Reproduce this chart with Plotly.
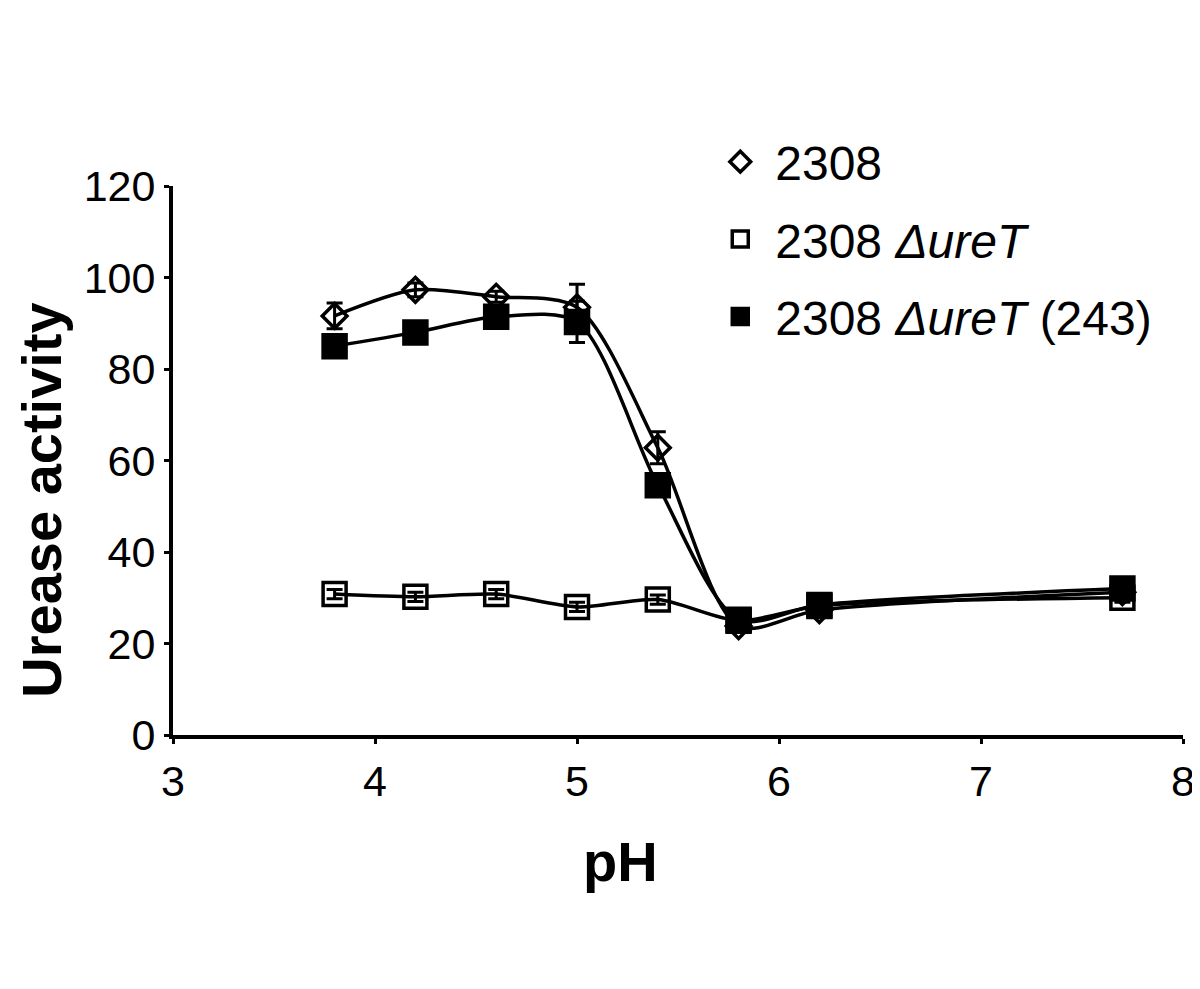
import plotly.graph_objects as go

ph = [3.8, 4.2, 4.6, 5.0, 5.4, 5.8, 6.2, 7.7]

wt = [91.6, 97.3, 95.8, 93.5, 62.8, 23.8, 27.3, 31.2]
wt_err = [2.8, 1.5, 1.2, 5.0, 3.5, 1.0, 1.0, 1.0]

ure = [30.8, 30.2, 30.8, 28.0, 29.6, 25.0, 28.2, 30.0]
ure_err = [1.0, 1.0, 1.0, 1.0, 1.0, 1.0, 1.0, 1.0]

comp = [85.0, 88.0, 91.4, 90.3, 54.6, 25.2, 28.4, 32.0]
comp_err = [1.5, 2.0, 1.5, 4.5, 2.0, 1.0, 1.0, 1.0]

names = ["2308", "2308 <i>ΔureT</i>", "2308 <i>ΔureT</i> (243)"]
FONT = "Arial, Liberation Sans, sans-serif"

fig = go.Figure()

# (values, errors, symbol, size, legend name, legend order)
series = [
    (ure, ure_err, "square-open", 23, names[1], 1),
    (wt, wt_err, "diamond-open", 19, names[0], 0),
    (comp, comp_err, "square", 23, names[2], 2),
]

for vals, err, sym, size, name, rank in series:
    fig.add_scatter(x=ph, y=vals, mode="lines", showlegend=False,
                    line=dict(color="black", width=3.5, shape="spline", smoothing=0.8))
    fig.add_scatter(x=ph, y=vals, mode="markers", name=name, legendrank=rank,
                    legendgroup=name,
                    marker=dict(symbol=sym, size=size, color="black",
                                line=dict(color="black", width=3.5)),
                    error_y=dict(type="data", array=err, color="black",
                                 thickness=3, width=8))

# page body has an 8px margin, so margins are shifted by 8px
fig.update_layout(
    width=1200, height=989,
    paper_bgcolor="white", plot_bgcolor="white",
    margin=dict(l=165, r=25, t=178, b=262),
    font=dict(family=FONT, color="black"),
    legend=dict(x=0.527, y=1.113, xanchor="left", yanchor="top",
                font=dict(size=48, family=FONT), bgcolor="rgba(0,0,0,0)",
                itemsizing="trace", itemwidth=60, tracegroupgap=12),
    annotations=[
        dict(text="<b>Urease activity</b>", textangle=-90, showarrow=False,
             xref="paper", yref="paper", x=-0.131, y=0.428,
             xanchor="center", yanchor="middle",
             font=dict(size=56, family=FONT)),
        dict(text="<b>pH</b>", showarrow=False,
             xref="paper", yref="paper", x=0.4426, y=-0.231,
             xanchor="center", yanchor="middle",
             font=dict(size=56, family=FONT)),
    ],
)

fig.update_xaxes(range=[3, 8], dtick=1, tick0=3, showgrid=False, zeroline=False,
                 showline=True, linecolor="black", linewidth=4,
                 ticks="outside", ticklen=5, tickwidth=3, tickcolor="black",
                 tickfont=dict(size=43, family=FONT))
fig.update_yaxes(range=[0, 120], dtick=20, showgrid=False, zeroline=False,
                 showline=True, linecolor="black", linewidth=4,
                 ticks="outside", ticklen=5, tickwidth=3, tickcolor="black",
                 tickfont=dict(size=43, family=FONT))

fig.write_html("out.html")
